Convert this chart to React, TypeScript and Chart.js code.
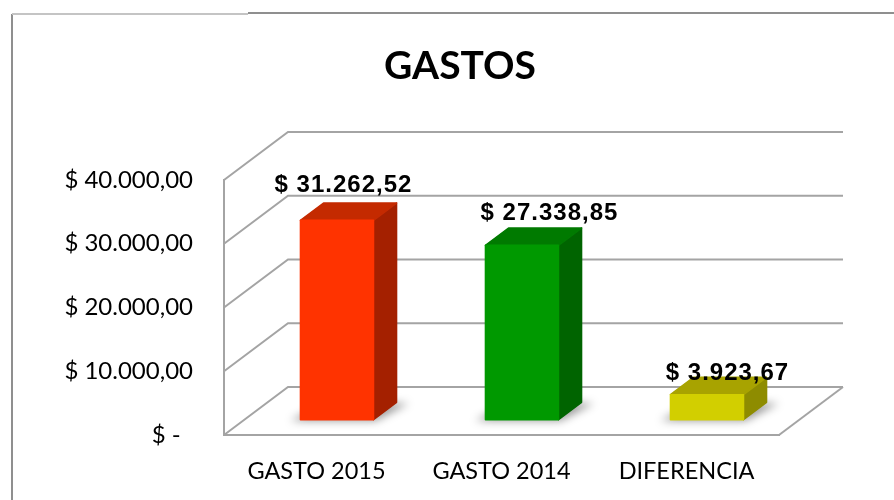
import React, { useEffect, useRef } from "react";
import { Chart, registerables } from "chart.js";

Chart.register(...registerables);

const categories = ["GASTO 2015", "GASTO 2014", "DIFERENCIA"];
const values = [31262.52, 27338.85, 3923.67];
const yTickValues = [0, 10000, 20000, 30000, 40000];
const yTickLabels = ["$ -  ", "$ 10.000,00", "$ 20.000,00", "$ 30.000,00", "$ 40.000,00"];
const chartTitle = "GASTOS";

const frontColors = ["#FF3300", "#009900", "#D2CF00"];
const topColors = ["#C42A00", "#007A00", "#A8A300"];
const sideColors = ["#A42000", "#006400", "#8E8C00"];
const labelNudge = [[-5, -4], [16, -1], [9, 9]];

const WALL_DX = 64;
const WALL_DY = -48;
const LINE_COLOR = "#a4a4a4";

function formatMoney(v: number): string {
  const fixed = v.toFixed(2);
  const [intPart, dec] = fixed.split(".");
  const withDots = intPart.replace(/\B(?=(\d{3})+(?!\d))/g, ".");
  return "$ " + withDots + "," + dec;
}

const depthPlugin = {
  id: "depth3d",
  beforeDraw(chart: any) {
    const ctx = chart.ctx;
    ctx.save();
    ctx.lineWidth = 2;
    ctx.strokeStyle = "#8f8f8f";
    ctx.beginPath();
    ctx.moveTo(12, 500);
    ctx.lineTo(12, 14);
    ctx.stroke();
    ctx.strokeStyle = "#c4c4c4";
    ctx.beginPath();
    ctx.moveTo(12, 14);
    ctx.lineTo(248, 14);
    ctx.stroke();
    ctx.strokeStyle = "#8f8f8f";
    ctx.beginPath();
    ctx.moveTo(248, 13);
    ctx.lineTo(894, 13);
    ctx.stroke();
    ctx.restore();
  },
  beforeDatasetsDraw(chart: any) {
    const ctx = chart.ctx;
    const { left, right, bottom } = chart.chartArea;
    const ys = chart.scales.y;
    ctx.save();
    ctx.strokeStyle = LINE_COLOR;
    ctx.lineWidth = 2;
    ctx.lineJoin = "miter";
    yTickValues.forEach((v) => {
      const py = ys.getPixelForValue(v);
      ctx.beginPath();
      ctx.moveTo(left, py);
      ctx.lineTo(left + WALL_DX, py + WALL_DY);
      ctx.lineTo(right + WALL_DX, py + WALL_DY);
      ctx.stroke();
    });
    ctx.beginPath();
    ctx.moveTo(right, bottom);
    ctx.lineTo(right + WALL_DX, bottom + WALL_DY);
    ctx.stroke();
    ctx.restore();
  },
  afterDatasetsDraw(chart: any) {
    const ctx = chart.ctx;
    const meta = chart.getDatasetMeta(0);
    const f0 = 0.32;
    const f1 = 0.36;
    const ox = WALL_DX * f0;
    const oy = WALL_DY * f0;
    const dx = WALL_DX * f1;
    const dy = WALL_DY * f1;
    const geo = meta.data.map((bar: any) => {
      const p = bar.getProps(["x", "y", "base", "width"], true);
      const x0 = p.x - p.width / 2 + ox;
      const x1 = p.x + p.width / 2 + ox;
      const yt = p.y + oy;
      const yb = p.base + oy;
      return { x0, x1, yt, yb, cx: p.x, ty: p.y };
    });
    // shadows
    ctx.save();
    ctx.filter = "blur(4px)";
    ctx.fillStyle = "rgba(0,0,0,0.4)";
    geo.forEach((g: any) => {
      ctx.beginPath();
      ctx.moveTo(g.x0 - 10, g.yb + 1);
      ctx.lineTo(g.x1 + 2, g.yb + 1);
      ctx.lineTo(g.x1 + dx + 12, g.yb + dy + 1);
      ctx.lineTo(g.x0 + dx, g.yb + dy + 1);
      ctx.closePath();
      ctx.fill();
    });
    ctx.restore();
    // boxes
    geo.forEach((g: any, i: number) => {
      ctx.save();
      ctx.lineJoin = "round";
      ctx.lineWidth = 1.5;
      // side
      ctx.fillStyle = sideColors[i];
      ctx.strokeStyle = sideColors[i];
      ctx.beginPath();
      ctx.moveTo(g.x1, g.yt);
      ctx.lineTo(g.x1 + dx, g.yt + dy);
      ctx.lineTo(g.x1 + dx, g.yb + dy);
      ctx.lineTo(g.x1, g.yb);
      ctx.closePath();
      ctx.fill();
      ctx.stroke();
      // top
      ctx.fillStyle = topColors[i];
      ctx.strokeStyle = topColors[i];
      ctx.beginPath();
      ctx.moveTo(g.x0, g.yt);
      ctx.lineTo(g.x1, g.yt);
      ctx.lineTo(g.x1 + dx, g.yt + dy);
      ctx.lineTo(g.x0 + dx, g.yt + dy);
      ctx.closePath();
      ctx.fill();
      ctx.stroke();
      // front
      ctx.fillStyle = frontColors[i];
      ctx.strokeStyle = frontColors[i];
      ctx.beginPath();
      ctx.rect(g.x0, g.yt, g.x1 - g.x0, g.yb - g.yt);
      ctx.fill();
      ctx.stroke();
      ctx.restore();
    });
    // value labels
    ctx.save();
    ctx.font = 'bold 24px "Liberation Sans", Arial, sans-serif';
    (ctx as any).letterSpacing = "1px";
    ctx.fillStyle = "#000";
    ctx.textAlign = "center";
    ctx.textBaseline = "middle";
    geo.forEach((g: any, i: number) => {
      const lx = g.cx + WALL_DX / 2 + labelNudge[i][0];
      const ly = g.ty + WALL_DY / 2 - 22 + labelNudge[i][1];
      ctx.fillText(formatMoney(values[i]), lx, ly);
    });
    ctx.restore();
  },
  afterDraw(chart: any) {
    const ctx = chart.ctx;
    ctx.save();
    ctx.font = 'bold 39px Lato, "Open Sans", sans-serif';
    ctx.fillStyle = "#000";
    ctx.textAlign = "center";
    ctx.textBaseline = "middle";
    ctx.fillText(chartTitle, 460, 66);
    ctx.restore();
  },
};

export default function App() {
  const canvasRef = useRef<HTMLCanvasElement | null>(null);

  useEffect(() => {
    if (!canvasRef.current) return;
    const chart = new Chart(canvasRef.current, {
      type: "bar",
      data: {
        labels: categories,
        datasets: [
          {
            data: values,
            backgroundColor: "rgba(0,0,0,0)",
            borderWidth: 0,
            barPercentage: 0.395,
            categoryPercentage: 1,
          },
        ],
      },
      options: {
        animation: false,
        responsive: false,
        maintainAspectRatio: false,
        layout: { padding: { top: 180, right: 115, left: 0, bottom: 0 } },
        plugins: {
          legend: { display: false },
          title: { display: false },
          tooltip: { enabled: false },
        },
        scales: {
          x: {
            grid: { display: false, drawTicks: false },
            border: { display: true, color: LINE_COLOR, width: 2 },
            ticks: {
              color: "#000",
              padding: 22,
              maxRotation: 0,
              font: { family: "Lato, 'Open Sans', sans-serif", size: 23.5 },
            },
            afterFit: (s: any) => {
              s.height = 65;
            },
          },
          y: {
            min: 0,
            max: 40000,
            grid: { display: false, drawTicks: false },
            border: { display: true, color: LINE_COLOR, width: 2 },
            afterBuildTicks: (s: any) => {
              s.ticks = yTickValues.map((v) => ({ value: v }));
            },
            ticks: {
              color: "#000",
              padding: 31,
              font: { family: "Lato, 'Open Sans', sans-serif", size: 24 },
              callback: (v: any) => {
                const idx = yTickValues.indexOf(Number(v));
                return idx >= 0 ? yTickLabels[idx] : "";
              },
            },
            afterFit: (s: any) => {
              s.width = 224;
            },
          },
        },
      },
      plugins: [depthPlugin],
    });
    return () => chart.destroy();
  }, []);

  return (
    <div style={{ position: "absolute", left: 0, top: 0, width: 894, height: 500, background: "#fff" }}>
      <canvas ref={canvasRef} width={894} height={500} style={{ display: "block" }} />
    </div>
  );
}
